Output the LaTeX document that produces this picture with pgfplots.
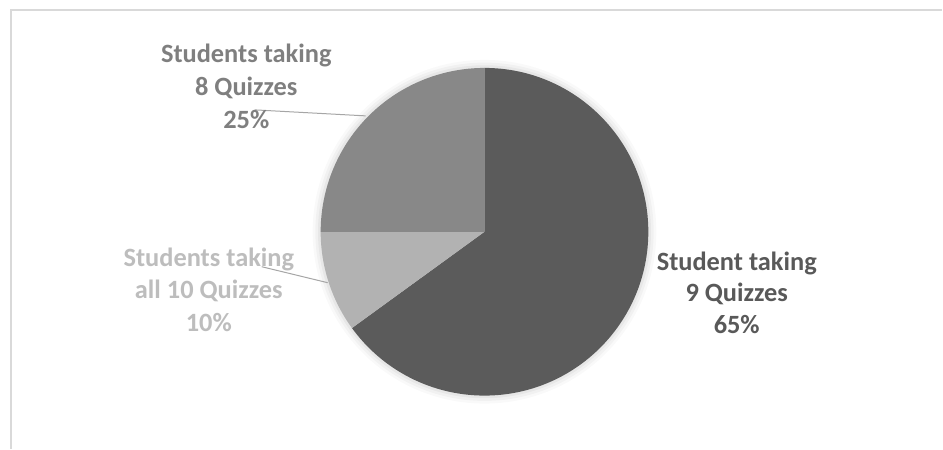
\documentclass[border=0pt]{standalone}
\usepackage{pgfplots}
\usepackage{pgfplotstable}
\pgfplotsset{compat=1.18}
\usepackage{fontspec}
\setmainfont{Carlito}
\definecolor{sliceA}{HTML}{5B5B5B}
\definecolor{sliceB}{HTML}{B2B2B2}
\definecolor{sliceC}{HTML}{888888}
\definecolor{labA}{HTML}{595959}
\definecolor{labB}{HTML}{BDBDBD}
\definecolor{labC}{HTML}{7F7F7F}
\definecolor{frame}{HTML}{D9D9D9}
\definecolor{leader}{HTML}{A6A6A6}
\pgfplotstableread{
slice value
nine 65
ten 10
eight 25
}\piedata
\begin{document}
\begin{tikzpicture}
\pgfplotstablegetelem{0}{value}\of\piedata \let\vA\pgfplotsretval
\pgfplotstablegetelem{1}{value}\of\piedata \let\vB\pgfplotsretval
\pgfplotstablegetelem{2}{value}\of\piedata \let\vC\pgfplotsretval
\pgfmathsetmacro\aA{90}
\pgfmathsetmacro\aB{\aA-3.6*\vA}
\pgfmathsetmacro\aC{\aB-3.6*\vB}
\pgfmathsetmacro\aD{\aC-3.6*\vC}
\def\R{123pt}
\begin{axis}[x=0.75pt, y=0.75pt, xmin=0, xmax=943, ymin=0, ymax=449,
  hide axis, scale only axis, clip=false]
\fill[white] (axis cs:0,0) rectangle (axis cs:943,449);
\draw[frame, line width=1.5pt] (axis cs:11,0) -- (axis cs:11,439) -- (axis cs:943,439);
% soft shadow
\fill[black, opacity=0.025] (axis cs:485,217) circle[radius=129pt];
\fill[black, opacity=0.03] (axis cs:485,217) circle[radius=127pt];
\fill[black, opacity=0.04] (axis cs:485,217) circle[radius=125pt];
% slices
\fill[sliceA] (axis cs:485,217) -- ([shift={(\aA:\R)}]axis cs:485,217) arc[start angle=\aA, end angle=\aB, radius=\R] -- cycle;
\fill[sliceB] (axis cs:485,217) -- ([shift={(\aB:\R)}]axis cs:485,217) arc[start angle=\aB, end angle=\aC, radius=\R] -- cycle;
\fill[sliceC] (axis cs:485,217) -- ([shift={(\aC:\R)}]axis cs:485,217) arc[start angle=\aC, end angle=\aD, radius=\R] -- cycle;
% leader lines
\draw[leader, line width=0.75pt] (axis cs:255,339) -- (axis cs:366,333);
\draw[leader, line width=0.75pt] (axis cs:262,182) -- (axis cs:328,166);
% labels
\begin{scope}[every node/.style={font=\bfseries\fontsize{19.8}{24}\selectfont, anchor=base, inner sep=0pt}]
\node[text=labC] at (axis cs:246.5,386) {Students taking};
\node[text=labC] at (axis cs:246.5,353) {8 Quizzes};
\node[text=labC] at (axis cs:246.5,320) {25\%};
\node[text=labB] at (axis cs:209,182) {Students taking};
\node[text=labB] at (axis cs:209,150) {all 10 Quizzes};
\node[text=labB] at (axis cs:209,117) {10\%};
\node[text=labA] at (axis cs:737.5,178) {Student taking};
\node[text=labA] at (axis cs:737.5,147) {9 Quizzes};
\node[text=labA] at (axis cs:737.5,115) {65\%};
\end{scope}
\end{axis}
\end{tikzpicture}
\end{document}
